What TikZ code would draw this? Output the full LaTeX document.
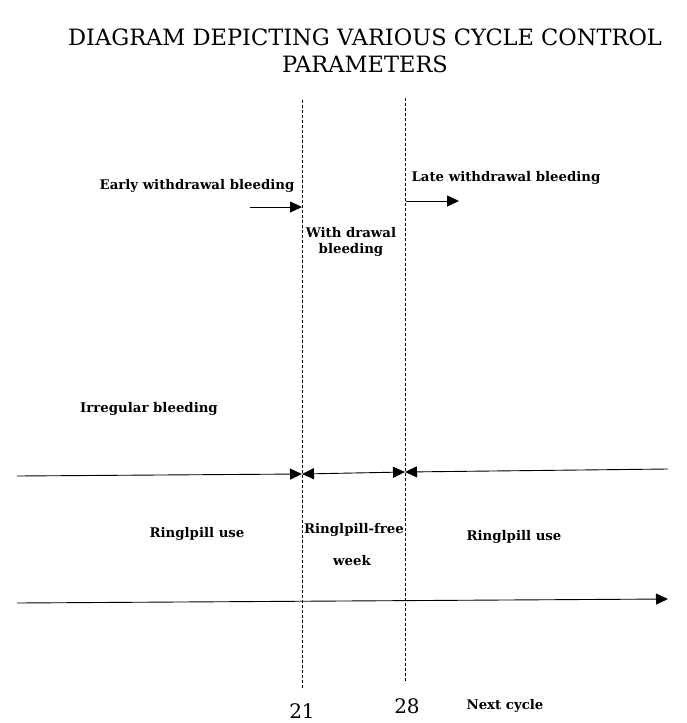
\documentclass[tikz,border=0pt]{standalone}
\usepackage{fontspec}
\setmainfont{DejaVu Serif}
\usetikzlibrary{arrows.meta}
\begin{document}
\begin{tikzpicture}[x=1pt,y=-1pt,
  lbl/.style={font=\bfseries\fontsize{13.3}{16}\selectfont, inner sep=0pt},
  num/.style={font=\fontsize{20}{22}\selectfont, inner sep=0pt},
  ttl/.style={font=\fontsize{22.5}{27}\selectfont, align=center, inner sep=0pt},
  guide/.style={line width=0.8pt, dash pattern=on 3pt off 2pt},
  axis/.style={line width=0.9pt},
  tip/.style={-{Triangle[length=12pt,width=11pt]}}
]
\useasboundingbox (0,0) rectangle (686,723);
\fill[white] (0,0) rectangle (686,723);

% title
\node[ttl] (title) at (365,51) {DIAGRAM DEPICTING VARIOUS CYCLE CONTROL\\PARAMETERS};

% dashed day lines
\coordinate (d21top) at (302,100);
\coordinate (d21bot) at (302,690);
\coordinate (d28top) at (405,98);
\coordinate (d28bot) at (405,683);
\draw[guide] (d21top) -- (d21bot);
\draw[guide] (d28top) -- (d28bot);

% labels
\node[lbl] (early) at (197,186) {Early withdrawal bleeding};
\node[lbl] (late) at (506,178) {Late withdrawal bleeding};
\node[lbl, align=center] (with) at (351,242) {With drawal\\bleeding};
\node[lbl] (irreg) at (149,409) {Irregular bleeding};
\node[lbl] (use1) at (197,534) {Ringlpill use};
\node[lbl] (free) at (354,530) {Ringlpill-free};
\node[lbl] (week) at (352,561) {week};
\node[lbl] (use2) at (514,537) {Ringlpill use};
\node[num] (n21) at (302,711) {21};
\node[num] (n28) at (407,706) {28};
\node[lbl] (next) at (505,706) {Next cycle};

% short arrows
\coordinate (ea1) at (250,207);
\coordinate (ea2) at (302,207);
\coordinate (la1) at (406,201);
\coordinate (la2) at (459,201);
\draw[axis,tip] (ea1) -- (ea2);
\draw[axis,tip] (la1) -- (la2);

% phase line
\coordinate (p0) at (17,476);
\coordinate (p1) at (302,474);
\coordinate (p2) at (405,472);
\coordinate (p3) at (668,469);
\draw[axis,tip] (p0) -- (p1);
\draw[axis,{Triangle[length=12pt,width=11pt]}-{Triangle[length=12pt,width=11pt]}] (p1) -- (p2);
\draw[axis,{Triangle[length=12pt,width=11pt]}-] (p2) -- (p3);

% time axis
\coordinate (t0) at (17,603);
\coordinate (t1) at (668,599);
\draw[axis,tip] (t0) -- (t1);
\end{tikzpicture}
\end{document}
